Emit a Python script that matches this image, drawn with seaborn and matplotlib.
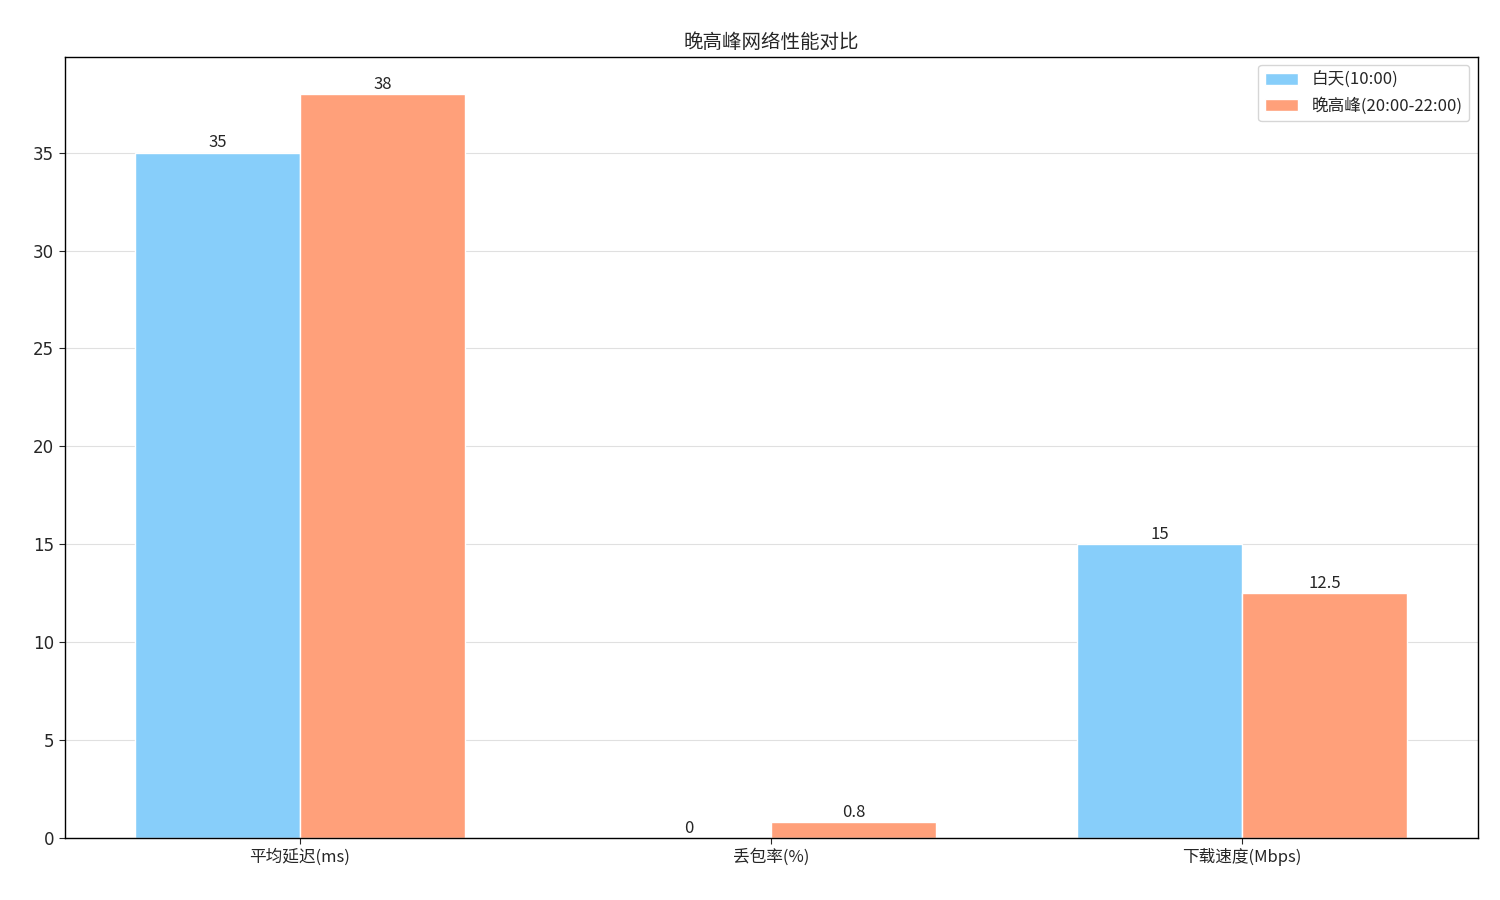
import matplotlib
matplotlib.use("Agg")
import matplotlib.pyplot as plt
import seaborn as sns
import pandas as pd

categories = ["平均延迟(ms)", "丢包率(%)", "下载速度(Mbps)"]
day_values = [35, 0, 15]
peak_values = [38, 0.8, 12.5]
series_names = ["白天(10:00)", "晚高峰(20:00-22:00)"]

sns.set_style("white")
plt.rcParams['font.family'] = ['Noto Sans CJK SC', 'DejaVu Sans']
plt.rcParams['axes.unicode_minus'] = False

df = pd.DataFrame({
    "cat": categories * 2,
    "val": day_values + peak_values,
    "series": [series_names[0]] * 3 + [series_names[1]] * 3,
})

fig, ax = plt.subplots(figsize=(15, 9), dpi=100)
sns.barplot(data=df, x="cat", y="val", hue="series", width=0.7,
            palette=["#87CEFA", "#FFA07A"], saturation=1, ax=ax, errorbar=None)
for c in ax.containers:
    labels = [f"{v:g}" for v in c.datavalues]
    ax.bar_label(c, labels=labels, fontsize=12, padding=1)
ax.set_xlabel("")
ax.set_ylabel("")
ax.set_title("晚高峰网络性能对比", fontsize=14)
ax.yaxis.grid(True, color="#e0e0e0", linewidth=0.8)
ax.set_axisbelow(True)
for s in ax.spines.values():
    s.set_color("black")
    s.set_linewidth(1)
ax.tick_params(axis="both", labelsize=12, length=4, left=True, bottom=True)
for t in ax.get_yticklabels():
    t.set_family("DejaVu Sans")
ax.legend(loc="upper right", fontsize=12, title=None)
fig.subplots_adjust(left=0.043, right=0.985, top=0.937, bottom=0.069)
fig.savefig("out.png", dpi=100)
